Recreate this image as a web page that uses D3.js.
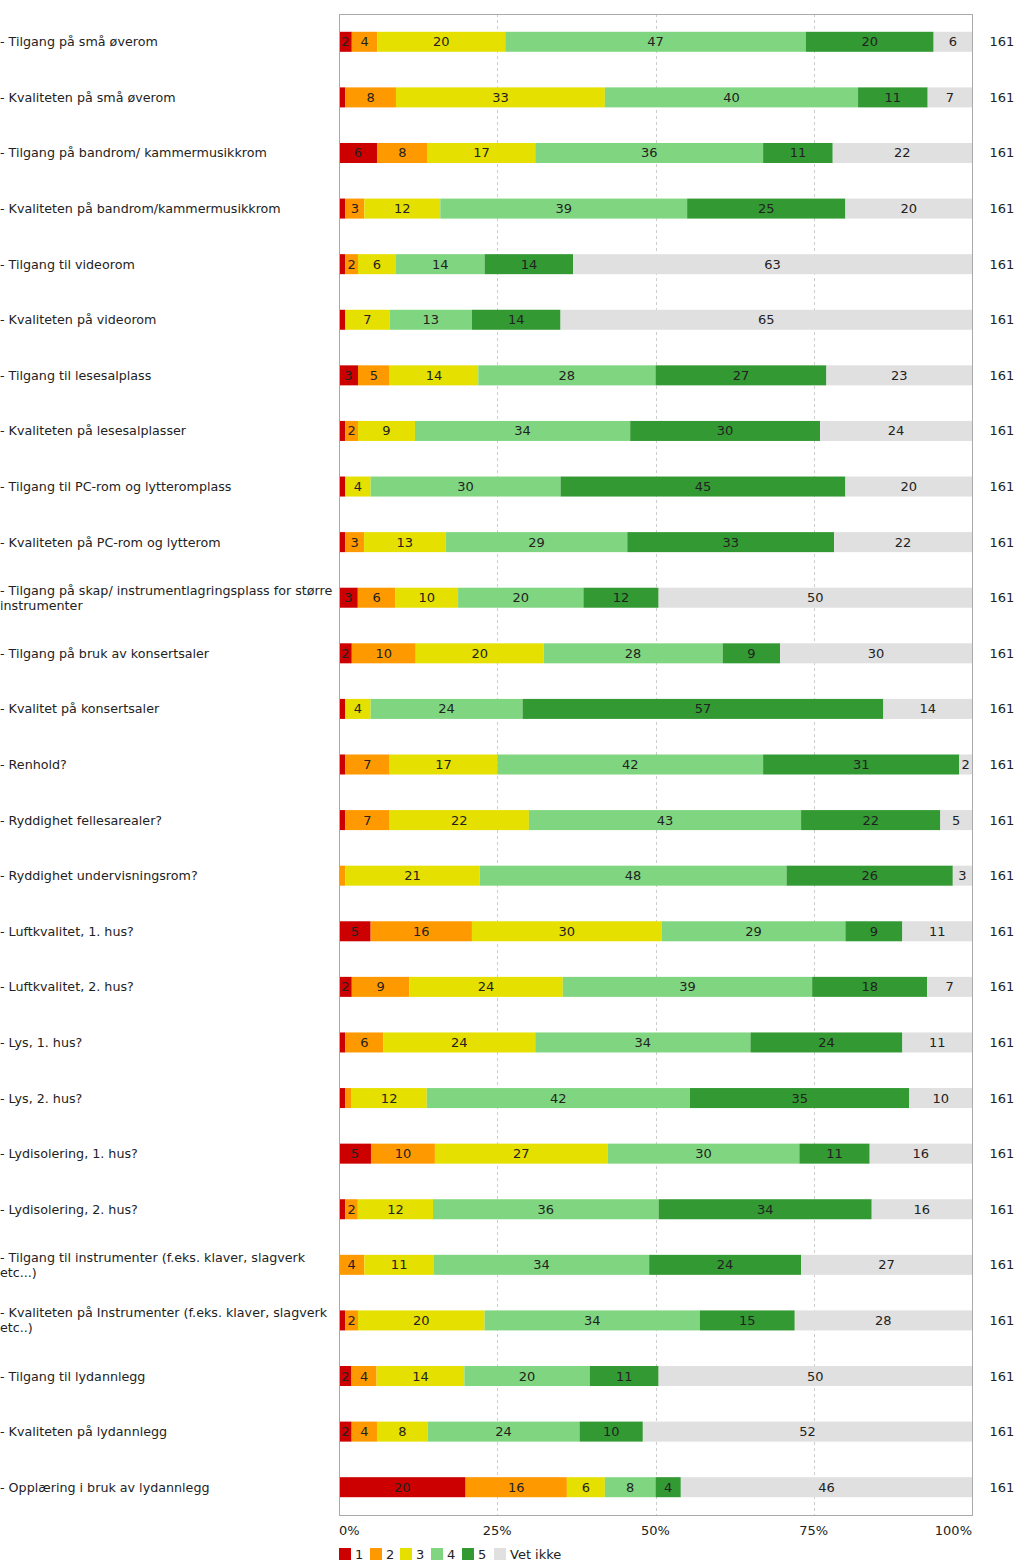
<!DOCTYPE html>
<html>
<head>
<meta charset="utf-8">
<script src="https://cdn.jsdelivr.net/npm/d3@7"></script>
<style>
  body { margin: 0; background: #fff; }
  text { font-family: "DejaVu Sans", Verdana, sans-serif; }
</style>
</head>
<body>
<svg id="chart" width="1024" height="1566"></svg>
<script>
var categories = [
  "- Tilgang på små øverom",
  "- Kvaliteten på små øverom",
  "- Tilgang på bandrom/ kammermusikkrom",
  "- Kvaliteten på bandrom/kammermusikkrom",
  "- Tilgang til videorom",
  "- Kvaliteten på videorom",
  "- Tilgang til lesesalplass",
  "- Kvaliteten på lesesalplasser",
  "- Tilgang til PC-rom og lytteromplass",
  "- Kvaliteten på PC-rom og lytterom",
  "- Tilgang på skap/ instrumentlagringsplass for større instrumenter",
  "- Tilgang på bruk av konsertsaler",
  "- Kvalitet på konsertsaler",
  "- Renhold?",
  "- Ryddighet fellesarealer?",
  "- Ryddighet undervisningsrom?",
  "- Luftkvalitet, 1. hus?",
  "- Luftkvalitet, 2. hus?",
  "- Lys, 1. hus?",
  "- Lys, 2. hus?",
  "- Lydisolering, 1. hus?",
  "- Lydisolering, 2. hus?",
  "- Tilgang til instrumenter (f.eks. klaver, slagverk etc...)",
  "- Kvaliteten på Instrumenter (f.eks. klaver, slagverk etc..)",
  "- Tilgang til lydannlegg",
  "- Kvaliteten på lydannlegg",
  "- Opplæring i bruk av lydannlegg"
];

// percent per answer
var v1      = [2, 1, 6, 1, 1, 1, 3, 1, 1, 1, 3, 2, 1, 1, 1, 0, 5, 2, 1, 1, 5, 1, 0, 1, 2, 2, 20];
var v2      = [4, 8, 8, 3, 2, 0, 5, 2, 0, 3, 6, 10, 0, 7, 7, 1, 16, 9, 6, 1, 10, 2, 4, 2, 4, 4, 16];
var v3      = [20, 33, 17, 12, 6, 7, 14, 9, 4, 13, 10, 20, 4, 17, 22, 21, 30, 24, 24, 12, 27, 12, 11, 20, 14, 8, 6];
var v4      = [47, 40, 36, 39, 14, 13, 28, 34, 30, 29, 20, 28, 24, 42, 43, 48, 29, 39, 34, 42, 30, 36, 34, 34, 20, 24, 8];
var v5      = [20, 11, 11, 25, 14, 14, 27, 30, 45, 33, 12, 9, 57, 31, 22, 26, 9, 18, 24, 35, 11, 34, 24, 15, 11, 10, 4];
var vetIkke = [6, 7, 22, 20, 63, 65, 23, 24, 20, 22, 50, 30, 14, 2, 5, 3, 11, 7, 11, 10, 16, 16, 27, 28, 50, 52, 46];
var nAnswers = [161, 161, 161, 161, 161, 161, 161, 161, 161, 161, 161, 161, 161, 161, 161, 161, 161, 161, 161, 161, 161, 161, 161, 161, 161, 161, 161];

var keys = ["1", "2", "3", "4", "5", "Vet ikke"];
var colors = ["#cc0000", "#ff9900", "#e6e000", "#80d680", "#339933", "#e0e0e0"];
var tickValues = [0, 0.25, 0.5, 0.75, 1];
var tickLabels = ["0%", "25%", "50%", "75%", "100%"];

(function () {
  var rows = categories.map(function (c, i) {
    return { cat: c, "1": v1[i], "2": v2[i], "3": v3[i], "4": v4[i], "5": v5[i], "Vet ikke": vetIkke[i], n: nAnswers[i] };
  });

  var svg = d3.select("#chart");
  var plotLeft = 339, plotRight = 972, plotTop = 14, plotBottom = 1515;

  var x = d3.scaleLinear().domain([0, 1]).range([plotLeft, plotRight]);
  var y = d3.scaleBand().domain(categories).range([plotTop, plotBottom])
    .paddingInner(0.64).paddingOuter(0.32);
  var color = d3.scaleOrdinal().domain(keys).range(colors);

  var series = d3.stack().keys(keys).offset(d3.stackOffsetExpand)(rows);

  // grid
  svg.append("g").selectAll("line")
    .data([0.25, 0.5, 0.75])
    .enter().append("line")
    .attr("x1", function (d) { return Math.round(x(d)) + 0.5; })
    .attr("x2", function (d) { return Math.round(x(d)) + 0.5; })
    .attr("y1", plotTop).attr("y2", plotBottom)
    .style("stroke", "#cccccc")
    .style("stroke-dasharray", "3,3");

  // bars
  var layer = svg.append("g").selectAll("g")
    .data(series)
    .enter().append("g")
    .style("fill", function (d) { return color(d.key); });

  layer.selectAll("rect")
    .data(function (d) { return d; })
    .enter().append("rect")
    .attr("x", function (d) { return x(d[0]); })
    .attr("y", function (d) { return y(d.data.cat); })
    .attr("width", function (d) { return x(d[1]) - x(d[0]); })
    .attr("height", y.bandwidth());

  // segment labels
  layer.selectAll("text")
    .data(function (d) {
      return d.filter(function (p) { return p.data[d.key] >= 2; })
        .map(function (p) { return { p: p, key: d.key }; });
    })
    .enter().append("text")
    .attr("x", function (d) { return (x(d.p[0]) + x(d.p[1])) / 2; })
    .attr("y", function (d) { return y(d.p.data.cat) + y.bandwidth() / 2 + 4.5; })
    .attr("text-anchor", "middle")
    .style("font-size", "13px")
    .style("fill", "#222")
    .text(function (d) { return d.p.data[d.key]; });

  // frame
  svg.append("rect")
    .attr("x", plotLeft + 0.5).attr("y", plotTop + 0.5)
    .attr("width", plotRight - plotLeft).attr("height", plotBottom - plotTop)
    .style("fill", "none").style("stroke", "#aaaaaa");

  // category labels, wrapped
  var labels = svg.append("g").selectAll("text")
    .data(rows)
    .enter().append("text")
    .style("font-size", "12.7px")
    .style("fill", "#222");

  labels.each(function (d) {
    var t = d3.select(this);
    var words = d.cat.split(" ");
    var lines = [], line = [];
    var probe = t.append("tspan");
    words.forEach(function (w) {
      line.push(w);
      probe.text(line.join(" "));
      if (probe.node().getComputedTextLength() > 336 && line.length > 1) {
        line.pop();
        lines.push(line.join(" "));
        line = [w];
      }
    });
    lines.push(line.join(" "));
    probe.remove();
    var cy = y(d.cat) + y.bandwidth() / 2;
    var lh = 15;
    lines.forEach(function (l, i) {
      t.append("tspan")
        .attr("x", 0)
        .attr("y", cy + 4.5 + (i - (lines.length - 1) / 2) * lh)
        .text(l);
    });
  });

  // N column
  svg.append("g").selectAll("text")
    .data(rows)
    .enter().append("text")
    .attr("x", 1002)
    .attr("y", function (d) { return y(d.cat) + y.bandwidth() / 2 + 4.5; })
    .attr("text-anchor", "middle")
    .style("font-size", "13px")
    .style("fill", "#222")
    .text(function (d) { return d.n; });

  // x ticks
  svg.append("g").selectAll("text")
    .data(tickValues)
    .enter().append("text")
    .attr("x", function (d) { return x(d); })
    .attr("y", 1535)
    .attr("text-anchor", function (d, i) { return i === 0 ? "start" : (i === tickValues.length - 1 ? "end" : "middle"); })
    .style("font-size", "13px")
    .style("fill", "#222")
    .text(function (d, i) { return tickLabels[i]; });

  // legend
  var legX = [339, 370, 400, 431, 462, 494];
  var leg = svg.append("g").selectAll("g")
    .data(keys)
    .enter().append("g")
    .attr("transform", function (d, i) { return "translate(" + legX[i] + ",1548)"; });
  leg.append("rect")
    .attr("width", 12).attr("height", 12)
    .style("fill", function (d) { return color(d); });
  leg.append("text")
    .attr("x", 16).attr("y", 11)
    .style("font-size", "13px")
    .style("fill", "#222")
    .text(function (d) { return d; });
})();
</script>
</body>
</html>
